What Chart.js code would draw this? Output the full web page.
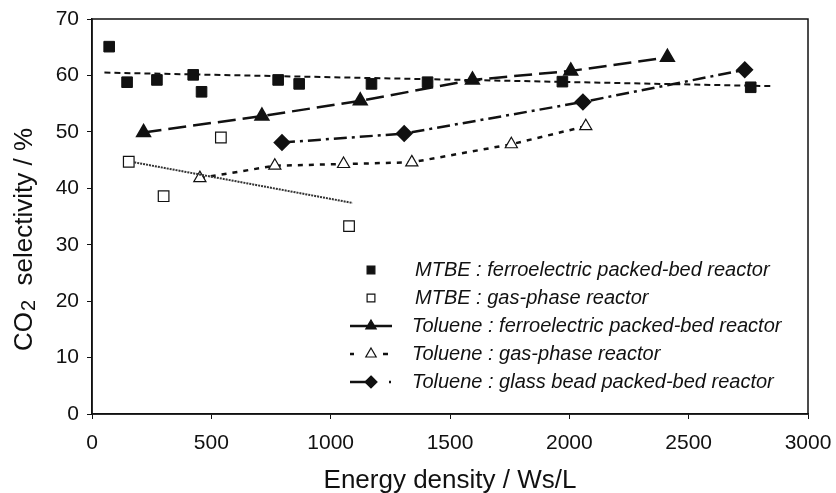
<!DOCTYPE html>
<html>
<head>
<meta charset="utf-8">
<script src="https://cdn.jsdelivr.net/npm/chart.js@4.4.1/dist/chart.umd.min.js"></script>
<style>
  html, body { margin: 0; padding: 0; background: #fff; }
  #wrap { position: relative; width: 836px; height: 493px; }
</style>
</head>
<body>
<div id="wrap"><canvas id="grafico" width="836" height="493"></canvas></div>
<script>
// datos
const mtbeFerroX = [72, 147, 272, 424, 459, 780, 868, 1171, 1406, 1971, 2760];
const mtbeFerroY = [65.1, 58.8, 59.2, 60.1, 57.1, 59.2, 58.5, 58.5, 58.8, 58.9, 57.9];
const mtbeGasX = [154, 300, 540, 1077];
const mtbeGasY = [44.7, 38.6, 49.0, 33.3];
const tolFerroX = [216, 712, 1124, 1594, 2006, 2411];
const tolFerroY = [49.9, 52.8, 55.5, 59.2, 60.8, 63.2];
const tolGasX = [452, 766, 1054, 1340, 1757, 2069];
const tolGasY = [41.8, 44.0, 44.3, 44.6, 47.8, 51.0];
const tolGlassX = [796, 1308, 2057, 2735];
const tolGlassY = [48.1, 49.7, 55.3, 61.0];
// lineas de tendencia (extremos)
const mtbeFerroTrendX = [52, 2850];
const mtbeFerroTrendY = [60.5, 58.1];
const mtbeGasTrendX = [177, 1092];
const mtbeGasTrendY = [44.6, 37.4];

const xTicks = [0, 500, 1000, 1500, 2000, 2500, 3000];
const yTicks = [0, 10, 20, 30, 40, 50, 60, 70];

const legendLabels = [
    'MTBE : ferroelectric packed-bed reactor',
    'MTBE : gas-phase reactor',
    'Toluene : ferroelectric packed-bed reactor',
    'Toluene : gas-phase reactor',
    'Toluene : glass bead packed-bed reactor'
];

const FONT = "'Liberation Sans', Arial, Helvetica, sans-serif";
const INK = '#111';

const puntos = (xs, ys) => xs.map((x, i) => ({ x: x, y: ys[i] }));

const datasets = [
    { label: 'mtbeFerroTrend', data: puntos(mtbeFerroTrendX, mtbeFerroTrendY), showLine: true,
      borderColor: INK, borderWidth: 2, borderDash: [6, 4], pointRadius: 0 },
    { label: 'mtbeGasTrend', data: puntos(mtbeGasTrendX, mtbeGasTrendY), showLine: true,
      borderColor: '#333', borderWidth: 2, borderDash: [2, 1], pointRadius: 0 },
    { label: legendLabels[2], data: puntos(tolFerroX, tolFerroY), showLine: true,
      borderColor: INK, borderWidth: 2.5, borderDash: [18, 7],
      pointStyle: 'triangle', pointRadius: 7, backgroundColor: INK, pointBorderColor: INK },
    { label: legendLabels[3], data: puntos(tolGasX, tolGasY), showLine: true,
      borderColor: INK, borderWidth: 2.5, borderDash: [5, 6],
      pointStyle: 'triangle', pointRadius: 7, backgroundColor: '#fff', pointBorderColor: INK, pointBorderWidth: 1.2 },
    { label: legendLabels[4], data: puntos(tolGlassX, tolGlassY), showLine: true,
      borderColor: INK, borderWidth: 2.5, borderDash: [13, 5, 3, 5],
      pointStyle: 'rectRot', pointRadius: 7, backgroundColor: INK, pointBorderColor: INK },
    { label: legendLabels[0], data: puntos(mtbeFerroX, mtbeFerroY), showLine: false,
      pointStyle: 'rect', pointRadius: 7.5, backgroundColor: INK, pointBorderColor: INK },
    { label: legendLabels[1], data: puntos(mtbeGasX, mtbeGasY), showLine: false,
      pointStyle: 'rect', pointRadius: 7.5, backgroundColor: '#fff', pointBorderColor: INK, pointBorderWidth: 1.2 }
];

// dibuja un marcador para la leyenda
function marcador(ctx, tipo, x, y, r, relleno) {
    ctx.save();
    ctx.beginPath();
    if (tipo === 'rect') {
        const s = r * Math.SQRT1_2;
        ctx.rect(x - s, y - s, 2 * s, 2 * s);
    } else if (tipo === 'triangle') {
        ctx.moveTo(x, y - r);
        ctx.lineTo(x + r * 0.866, y + r * 0.5);
        ctx.lineTo(x - r * 0.866, y + r * 0.5);
        ctx.closePath();
    } else if (tipo === 'rectRot') {
        ctx.moveTo(x, y - r);
        ctx.lineTo(x + r, y);
        ctx.lineTo(x, y + r);
        ctx.lineTo(x - r, y);
        ctx.closePath();
    }
    ctx.fillStyle = relleno ? INK : '#fff';
    ctx.fill();
    ctx.strokeStyle = INK;
    ctx.lineWidth = 1.2;
    ctx.stroke();
    ctx.restore();
}

const marcoYTitulos = {
    id: 'marcoYTitulos',
    afterDraw(chart) {
        const ctx = chart.ctx;
        const a = chart.chartArea;
        ctx.save();
        // marco
        ctx.strokeStyle = INK;
        ctx.lineWidth = 1.5;
        ctx.strokeRect(a.left, a.top, a.right - a.left, a.bottom - a.top);

        // titulo eje x
        ctx.fillStyle = INK;
        ctx.font = '26px ' + FONT;
        ctx.textAlign = 'center';
        ctx.textBaseline = 'alphabetic';
        ctx.fillText('Energy density / Ws/L', (a.left + a.right) / 2, 488);

        // titulo eje y (CO2 con subindice)
        ctx.translate(32, 240);
        ctx.rotate(-Math.PI / 2);
        ctx.textAlign = 'left';
        const p1 = 'CO', p2 = '2', p3 = '  selectivity / %';
        ctx.font = '26px ' + FONT;
        const w1 = ctx.measureText(p1).width;
        const w3 = ctx.measureText(p3).width;
        ctx.font = '20px ' + FONT;
        const w2 = ctx.measureText(p2).width;
        let x0 = -(w1 + w2 + w3) / 2;
        ctx.font = '26px ' + FONT;
        ctx.fillText(p1, x0, 0);
        ctx.font = '20px ' + FONT;
        ctx.fillText(p2, x0 + w1 + 1, 3);
        ctx.font = '26px ' + FONT;
        ctx.fillText(p3, x0 + w1 + w2 + 1, 0);
        ctx.restore();

        // leyenda
        ctx.save();
        const filas = [270, 298, 326, 354, 382];
        const estilos = [
            { tipo: 'rect', relleno: true, linea: null, r: 5.5 },
            { tipo: 'rect', relleno: false, linea: null, r: 5.5 },
            { tipo: 'triangle', relleno: true, linea: [], r: 6 },
            { tipo: 'triangle', relleno: false, linea: [4, 29, 5, 20], r: 6 },
            { tipo: 'rectRot', relleno: true, linea: [16, 23, 2, 10], r: 6 }
        ];
        ctx.font = 'italic 20px ' + FONT;
        ctx.textBaseline = 'middle';
        ctx.textAlign = 'left';
        filas.forEach((y, i) => {
            const e = estilos[i];
            if (e.linea) {
                ctx.save();
                ctx.beginPath();
                ctx.strokeStyle = INK;
                ctx.lineWidth = 2.5;
                ctx.setLineDash(e.linea);
                ctx.moveTo(350, y);
                ctx.lineTo(392, y);
                ctx.stroke();
                ctx.restore();
            }
            marcador(ctx, e.tipo, 371, y, e.r, e.relleno);
            ctx.fillStyle = INK;
            ctx.fillText(legendLabels[i], i < 2 ? 415 : 412, y);
        });
        ctx.restore();
    }
};

const ctx = document.getElementById('grafico').getContext('2d');
new Chart(ctx, {
    type: 'scatter',
    data: { datasets: datasets },
    options: {
        responsive: false,
        animation: false,
        devicePixelRatio: 1,
        layout: { padding: { top: 19, right: 28, left: 0, bottom: 0 } },
        plugins: { legend: { display: false }, tooltip: { enabled: false } },
        scales: {
            x: {
                type: 'linear', min: 0, max: 3000,
                afterFit: (s) => { s.height = 79; s.paddingLeft = 0; s.paddingRight = 0; },
                afterBuildTicks: (s) => { s.ticks = xTicks.map(v => ({ value: v })); },
                ticks: { color: INK, font: { family: FONT, size: 21 }, padding: 12,
                         maxRotation: 0, minRotation: 0, callback: (v) => String(v) },
                grid: { display: true, drawOnChartArea: false, drawTicks: true, tickLength: 5, color: INK },
                border: { display: true, color: INK, width: 1.5 }
            },
            y: {
                type: 'linear', min: 0, max: 70,
                afterFit: (s) => { s.width = 92; s.paddingTop = 0; s.paddingBottom = 0; },
                afterBuildTicks: (s) => { s.ticks = yTicks.map(v => ({ value: v })); },
                ticks: { color: INK, font: { family: FONT, size: 21 }, padding: 8,
                         callback: (v) => String(v) },
                grid: { display: true, drawOnChartArea: false, drawTicks: true, tickLength: 5, color: INK },
                border: { display: true, color: INK, width: 1.5 }
            }
        }
    },
    plugins: [marcoYTitulos]
});
</script>
</body>
</html>
